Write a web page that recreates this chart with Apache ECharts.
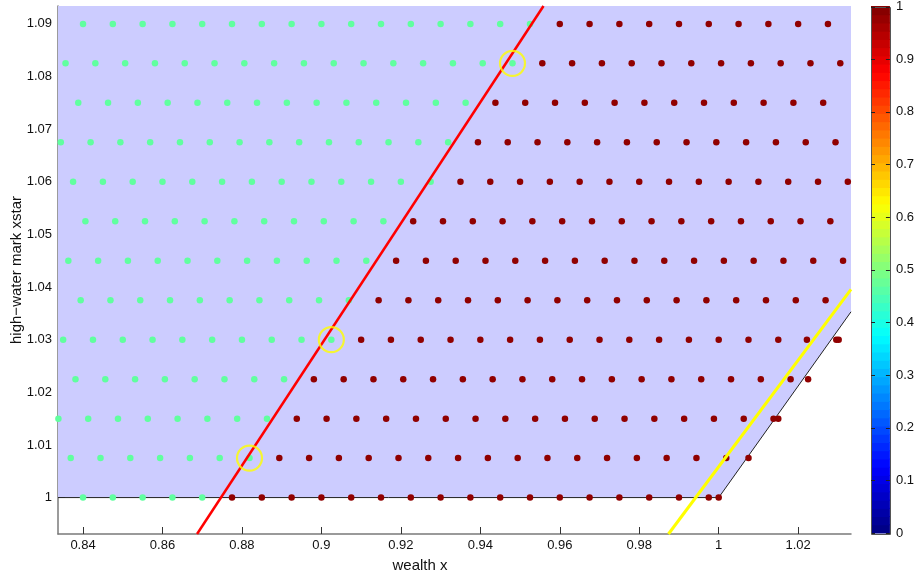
<!DOCTYPE html>
<html><head><meta charset="utf-8">
<script src="https://cdn.jsdelivr.net/npm/echarts@6/dist/echarts.min.js"></script>
<style>html,body{margin:0;padding:0;background:#fff}#c{width:917px;height:579px}</style>
</head><body><div id="c"></div>
<script>
// ---- data ----
const xTicks = [0.84, 0.86, 0.88, 0.9, 0.92, 0.94, 0.96, 0.98, 1, 1.02];
const yTicks = [1, 1.01, 1.02, 1.03, 1.04, 1.05, 1.06, 1.07, 1.08, 1.09];
const cbTicks = [0, 0.1, 0.2, 0.3, 0.4, 0.5, 0.6, 0.7, 0.8, 0.9, 1];
const xRange = [0.8337, 1.0333];
const yRange = [0.99308, 1.0934];
const cbRange = [0, 1];
const cbLevels = 64;

const rowXstar = [1, 1.0075, 1.015, 1.0225, 1.03, 1.0375, 1.045, 1.0525, 1.06, 1.0675, 1.075, 1.0825, 1.09];
const greenX = [
  [0.84,0.8475,0.855,0.8625,0.87],
  [0.8369,0.8444,0.8519,0.8594,0.8669,0.8744,0.8819],
  [0.8338,0.8413,0.8488,0.8563,0.8638,0.8713,0.8788,0.8863],
  [0.8381,0.8456,0.8531,0.8606,0.8681,0.8756,0.8831,0.8906],
  [0.835,0.8425,0.85,0.8575,0.865,0.8725,0.88,0.8875,0.895,0.9025],
  [0.8394,0.8469,0.8544,0.8619,0.8694,0.8769,0.8844,0.8919,0.8994,0.9069],
  [0.8363,0.8438,0.8513,0.8588,0.8663,0.8738,0.8813,0.8888,0.8963,0.9038,0.9113],
  [0.8406,0.8481,0.8556,0.8631,0.8706,0.8781,0.8856,0.8931,0.9006,0.9081,0.9156],
  [0.8375,0.845,0.8525,0.86,0.8675,0.875,0.8825,0.89,0.8975,0.905,0.9125,0.92,0.9275],
  [0.8344,0.8419,0.8494,0.8569,0.8644,0.8719,0.8794,0.8869,0.8944,0.9019,0.9094,0.9169,0.9244,0.9319],
  [0.8388,0.8463,0.8538,0.8613,0.8688,0.8763,0.8838,0.8913,0.8988,0.9063,0.9138,0.9213,0.9288,0.9363],
  [0.8356,0.8431,0.8506,0.8581,0.8656,0.8731,0.8806,0.8881,0.8956,0.9031,0.9106,0.9181,0.9256,0.9331,0.9406,0.9481],
  [0.84,0.8475,0.855,0.8625,0.87,0.8775,0.885,0.8925,0.9,0.9075,0.915,0.9225,0.93,0.9375,0.945,0.9525]
];
const redX = [
  [0.8775,0.885,0.8925,0.9,0.9075,0.915,0.9225,0.93,0.9375,0.945,0.9525,0.96,0.9675,0.975,0.9825,0.99,0.9975,1.0],
  [0.8894,0.8969,0.9044,0.9119,0.9194,0.9269,0.9344,0.9419,0.9494,0.9569,0.9644,0.9719,0.9794,0.9869,0.9944,1.0019,1.0075],
  [0.8938,0.9013,0.9088,0.9163,0.9238,0.9313,0.9388,0.9463,0.9538,0.9613,0.9688,0.9763,0.9838,0.9913,0.9988,1.0063,1.0138,1.015],
  [0.8981,0.9056,0.9131,0.9206,0.9281,0.9356,0.9431,0.9506,0.9581,0.9656,0.9731,0.9806,0.9881,0.9956,1.0031,1.0106,1.0181,1.0225],
  [0.91,0.9175,0.925,0.9325,0.94,0.9475,0.955,0.9625,0.97,0.9775,0.985,0.9925,1.0,1.0075,1.015,1.0222,1.0296,1.0302],
  [0.9144,0.9219,0.9294,0.9369,0.9444,0.9519,0.9594,0.9669,0.9744,0.9819,0.9894,0.9969,1.0044,1.0119,1.0194,1.0269],
  [0.9188,0.9263,0.9338,0.9413,0.9488,0.9563,0.9638,0.9713,0.9788,0.9863,0.9938,1.0013,1.0088,1.0163,1.0238,1.0313],
  [0.9231,0.9306,0.9381,0.9456,0.9531,0.9606,0.9681,0.9756,0.9831,0.9906,0.9981,1.0056,1.0131,1.0206,1.0281],
  [0.935,0.9425,0.95,0.9575,0.965,0.9725,0.98,0.9875,0.995,1.0025,1.01,1.0175,1.025,1.0325],
  [0.9394,0.9469,0.9544,0.9619,0.9694,0.9769,0.9844,0.9919,0.9994,1.0069,1.0144,1.0219,1.0294],
  [0.9438,0.9513,0.9588,0.9663,0.9738,0.9813,0.9888,0.9963,1.0038,1.0113,1.0188,1.0263],
  [0.9556,0.9631,0.9706,0.9781,0.9856,0.9931,1.0006,1.0081,1.0156,1.0231,1.0306],
  [0.96,0.9675,0.975,0.9825,0.99,0.9975,1.005,1.0125,1.02,1.0275]
];
const circled = [[0.8819, 1.0075], [0.9025, 1.03], [0.9481, 1.0825]];
const redLine = [[0.8687, 0.99308], [0.9559, 1.0934]];
const yellowLine = [[0.98736, 0.99308], [1.0333, 1.03955]];
const regionPoly = [[0.8337, 1], [1, 1], [1.0333, 1.0353], [1.0333, 1.0934], [0.8337, 1.0934]];
const regionEdge = [[0.8337, 1], [1, 1], [1.0333, 1.0353]];

// ---- build ----
const greenData = [], redData = [];
rowXstar.forEach((y, k) => {
  greenX[k].forEach(x => greenData.push([x, y]));
  redX[k].forEach(x => redData.push([x, y]));
});
function jet(v) {
  const c = t => Math.round(255 * Math.max(0, Math.min(1, t)));
  return 'rgb(' + c(1.5 - Math.abs(4 * v - 3)) + ',' + c(1.5 - Math.abs(4 * v - 2)) + ',' + c(1.5 - Math.abs(4 * v - 1)) + ')';
}
const cbData = [];
for (let i = 0; i < cbLevels; i++) cbData.push([0.5, (i + 0.5) / cbLevels]);
const cbTickData = cbTicks.map(t => [0.5, t]);

const FONT = 'Liberation Sans, Arial, Helvetica, sans-serif';
const chart = echarts.init(document.getElementById('c'), null, {renderer: 'canvas'});
chart.setOption({
  animation: false,
  backgroundColor: '#fff',
  grid: [
    {left: 58, top: 6, width: 793, height: 528, containLabel: false},
    {left: 871, top: 6, width: 26, height: 527, show: false}
  ],
  xAxis: [
    {type: 'value', gridIndex: 0, min: xRange[0], max: xRange[1],
     axisLine: {show: true, onZero: false, lineStyle: {color: '#7a7a7a', width: 1.5}},
     axisTick: {show: true, inside: true, length: 7, customValues: xTicks, lineStyle: {color: '#333'}},
     axisLabel: {customValues: xTicks, margin: 5, fontSize: 13, color: '#111', fontFamily: FONT},
     splitLine: {show: false}},
    {type: 'value', gridIndex: 1, min: 0, max: 1, show: false}
  ],
  yAxis: [
    {type: 'value', gridIndex: 0, min: yRange[0], max: yRange[1],
     axisLine: {show: true, onZero: false, lineStyle: {color: '#7a7a7a', width: 1.5}},
     axisTick: {show: true, inside: true, length: 7, customValues: yTicks, lineStyle: {color: '#333'}},
     axisLabel: {customValues: yTicks, margin: 6, fontSize: 13, color: '#111', fontFamily: FONT},
     splitLine: {show: false}},
    {type: 'value', gridIndex: 1, min: cbRange[0], max: cbRange[1], interval: 0.1, position: 'right',
     axisLine: {show: false},
     axisTick: {show: false},
     axisLabel: {margin: 6, fontSize: 13, color: '#111', fontFamily: FONT},
     splitLine: {show: false}}
  ],
  series: [
    {type: 'custom', xAxisIndex: 0, yAxisIndex: 0, z: 1, silent: true,
     data: [regionPoly[0]],
     renderItem: (params, api) => ({
       type: 'polygon',
       shape: {points: regionPoly.map(p => api.coord(p))},
       style: {fill: '#ccccff', stroke: null}
     })},
    {type: 'line', xAxisIndex: 0, yAxisIndex: 0, z: 2, silent: true, data: regionEdge,
     showSymbol: false, symbol: 'none', lineStyle: {color: '#222', width: 1}},
    {type: 'scatter', xAxisIndex: 0, yAxisIndex: 0, z: 3, silent: true, data: greenData,
     symbol: 'circle', symbolSize: 6.5, itemStyle: {color: '#60ff9f', opacity: 1}},
    {type: 'scatter', xAxisIndex: 0, yAxisIndex: 0, z: 3, silent: true, data: redData,
     symbol: 'circle', symbolSize: 6.5, itemStyle: {color: '#900000', opacity: 1}},
    {type: 'line', xAxisIndex: 0, yAxisIndex: 0, z: 4, silent: true, data: redLine,
     showSymbol: false, symbol: 'none', lineStyle: {color: '#ff0000', width: 2.5}},
    {type: 'line', xAxisIndex: 0, yAxisIndex: 0, z: 4, silent: true, data: yellowLine,
     showSymbol: false, symbol: 'none', lineStyle: {color: '#ffff00', width: 3}},
    {type: 'scatter', xAxisIndex: 0, yAxisIndex: 0, z: 5, silent: true, data: circled,
     symbol: 'circle', symbolSize: 25,
     itemStyle: {color: 'rgba(0,0,0,0)', borderColor: '#ffff00', borderWidth: 2.2}},
    {type: 'custom', xAxisIndex: 1, yAxisIndex: 1, z: 2, silent: true, data: cbData,
     renderItem: (params, api) => {
       const v = api.value(1);
       const lo = v - 0.5 / cbLevels, hi = v + 0.5 / cbLevels;
       const p0 = api.coord([0, hi]), p1 = api.coord([1, lo]);
       return {type: 'rect',
         shape: {x: p0[0], y: p0[1] - 0.5, width: p1[0] - p0[0], height: p1[1] - p0[1] + 1},
         style: {fill: jet(v)}};
     }},
    {type: 'custom', xAxisIndex: 1, yAxisIndex: 1, z: 6, silent: true, data: cbTickData,
     renderItem: (params, api) => {
       const t = api.value(1);
       const a = api.coord([0, t]), b = api.coord([1, t]);
       const y = Math.round(a[1]) + 0.5;
       const children = [
         {type: 'line', shape: {x1: a[0], y1: y, x2: a[0] + 4, y2: y}, style: {stroke: '#222', lineWidth: 1}},
         {type: 'line', shape: {x1: b[0] - 4, y1: y, x2: b[0], y2: y}, style: {stroke: '#222', lineWidth: 1}}
       ];
       if (params.dataIndex === 0) {
         const top = api.coord([0, cbRange[1]]);
         children.push({type: 'rect', shape: {x: Math.round(a[0]) + 0.5, y: Math.round(top[1]) + 0.5,
           width: Math.round(b[0] - a[0]), height: Math.round(a[1] - top[1])},
           style: {fill: null, stroke: '#555', lineWidth: 1}});
       }
       return {type: 'group', children};
     }}
  ],
  graphic: [
    {type: 'text', x: 420, y: 566, style: {text: 'wealth x', fontSize: 15, fontFamily: FONT, fill: '#111', align: 'center', verticalAlign: 'middle'}},
    {type: 'text', x: 17, y: 270, rotation: Math.PI / 2, style: {text: 'high\u2212water mark xstar', fontSize: 15, fontFamily: FONT, fill: '#111', align: 'center', verticalAlign: 'middle'}}
  ]
});
</script></body></html>
